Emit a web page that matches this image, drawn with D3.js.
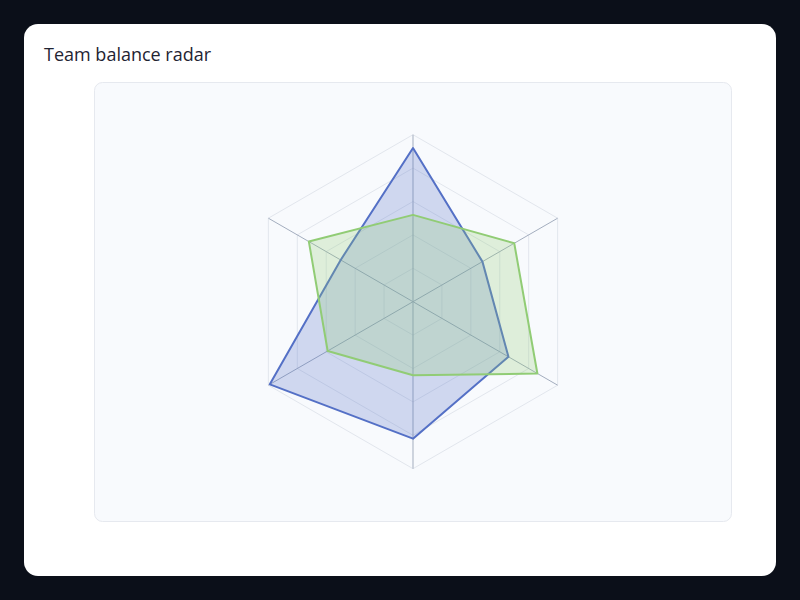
<!DOCTYPE html>
<html><head><meta charset="utf-8">
<script src="https://cdn.jsdelivr.net/npm/d3@7"></script>
<style>
html,body{margin:0;padding:0;background:#0b0f19;}
svg{display:block;}
</style></head>
<body>
<svg id="chart" width="800" height="600"></svg>
<script>
const axesNames = ["Axis 1","Axis 2","Axis 3","Axis 4","Axis 5","Axis 6"];
const seriesNames = ["Team A","Team B"];
const teamA = [92, 48, 66, 82, 99, 50];
const teamB = [52, 70, 86, 44, 59, 72];
const maxValue = 100;
const levels = 5;
const colors = ["#5470c6", "#91cc75"];

const svg = d3.select("#chart");
svg.append("rect").attr("x",24).attr("y",24).attr("width",752).attr("height",552).attr("rx",14).attr("fill","#ffffff");
svg.append("text").attr("x",44).attr("y",61).attr("font-family","'Open Sans','Noto Sans',sans-serif").attr("font-size",18).attr("fill","#1f2433").text("Team balance radar");
svg.append("rect").attr("x",94.5).attr("y",82.5).attr("width",637).attr("height",439).attr("rx",8).attr("fill","#f8fafd").attr("stroke","#e6e9ef").attr("stroke-width",1);

const cx = 413, cy = 301.7, R = 167;
const n = axesNames.length;
const angle = i => -Math.PI/2 + i*2*Math.PI/n;
const r = d3.scaleLinear().domain([0,maxValue]).range([0,R]);
const g = svg.append("g").attr("transform",`translate(${cx},${cy})`);

const ringLine = d3.line();
for (let l=1; l<=levels; l++){
  const rv = r(maxValue*l/levels);
  const pts = d3.range(n).map(i=>[rv*Math.cos(angle(i)), rv*Math.sin(angle(i))]);
  g.append("path").attr("d", ringLine(pts)+"Z").attr("fill","none").attr("stroke","#e2e6ed").attr("stroke-width",1);
}
axesNames.forEach((a,i)=>{
  g.append("line").attr("x1",0).attr("y1",0)
   .attr("x2",R*Math.cos(angle(i))).attr("y2",R*Math.sin(angle(i)))
   .attr("stroke","#a3adbe").attr("stroke-width",1);
});

const radial = d3.lineRadial().angle((d,i)=>i*2*Math.PI/n).radius(d=>r(d)).curve(d3.curveLinearClosed);
[teamA, teamB].forEach((s,k)=>{
  g.append("path").attr("d", radial(s)).attr("fill",colors[k]).attr("fill-opacity",0.25)
   .attr("stroke",colors[k]).attr("stroke-width",2).attr("stroke-linejoin","round");
});
</script>
</body></html>
